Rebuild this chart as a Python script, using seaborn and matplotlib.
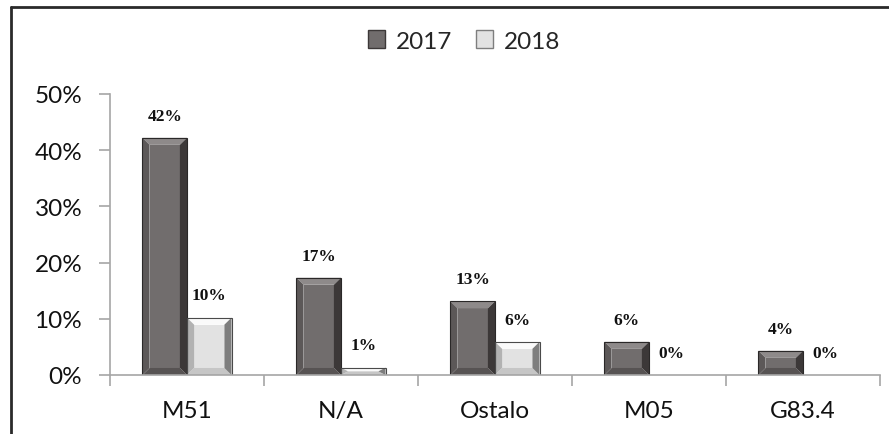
import matplotlib
matplotlib.use("Agg")
import matplotlib.pyplot as plt
from matplotlib.patches import Polygon, Patch
from matplotlib.lines import Line2D
from matplotlib.ticker import FixedLocator
import seaborn as sns
import pandas as pd

categories = ["M51", "N/A", "Ostalo", "M05", "G83.4"]
years = ["2017", "2018"]
values_2017 = [42.2, 17.3, 13.1, 5.9, 4.3]
values_2018 = [10.2, 1.3, 5.9, 0.0, 0.0]
y_ticks = [0, 10, 20, 30, 40, 50]
y_tick_labels = ["0%", "10%", "20%", "30%", "40%", "50%"]

face = {"2017": "#716d6d", "2018": "#e2e2e2"}
shade = {
    "2017": {"top": "#8e8a8a", "left": "#5c5858", "right": "#3c3838", "bottom": "#575353", "edge": "#2a2828"},
    "2018": {"top": "#fafafa", "left": "#b2b2b2", "right": "#7e7e7e", "bottom": "#c6c6c6", "edge": "#4a4a4a"},
}

df = pd.DataFrame({
    "cat": categories * 2,
    "year": ["2017"] * len(categories) + ["2018"] * len(categories),
    "val": values_2017 + values_2018,
})

sns.set_style("white")
plt.rcParams["font.family"] = ["Lato", "DejaVu Sans"]

fig = plt.figure(figsize=(8.89, 4.35), dpi=100)
ax = fig.add_axes([110 / 889, 1 - 376 / 435, (880 - 110) / 889, (376 - 95) / 435])

sns.barplot(data=df, x="cat", y="val", hue="year", order=categories, hue_order=years,
            palette=face, width=0.578, ax=ax, legend=False, saturation=1,
            linewidth=0, edgecolor="none")

bars = list(ax.patches)
n = len(categories)
label_font = dict(fontsize=12.5, fontweight="bold", family=["Liberation Serif", "DejaVu Serif"], color="#111111")

for i, patch in enumerate(bars):
    yr = years[i // n]
    x0 = patch.get_x()
    w = patch.get_width()
    h = patch.get_height()
    ax.annotate(f"{round(h)}%", (x0 + w / 2, h), xytext=(0, 16), textcoords="offset points",
                ha="center", va="center", **label_font)
    if h <= 0:
        continue
    x1 = x0 + w
    y0 = 0.0
    y1 = h
    bx = 0.16 * w
    by = min(1.25, h / 2)
    s = shade[yr]
    polys = [
        ([(x0 + bx, y0 + by), (x1 - bx, y0 + by), (x1 - bx, y1 - by), (x0 + bx, y1 - by)], face[yr]),
        ([(x0, y1), (x1, y1), (x1 - bx, y1 - by), (x0 + bx, y1 - by)], s["top"]),
        ([(x0, y0), (x1, y0), (x1 - bx, y0 + by), (x0 + bx, y0 + by)], s["bottom"]),
        ([(x0, y0), (x0 + bx, y0 + by), (x0 + bx, y1 - by), (x0, y1)], s["left"]),
        ([(x1, y0), (x1 - bx, y0 + by), (x1 - bx, y1 - by), (x1, y1)], s["right"]),
    ]
    for pts, c in polys:
        ax.add_patch(Polygon(pts, closed=True, facecolor=c, edgecolor="none",
                             zorder=patch.get_zorder() + 0.1))
    patch.set_edgecolor(s["edge"])
    patch.set_linewidth(0.8)
    patch.set_zorder(patch.get_zorder() + 0.2)
    patch.set_facecolor("none")

ax.set_ylim(0, 50)
ax.set_xlim(-0.5, n - 0.5)
ax.set_yticks(y_ticks)
ax.set_yticklabels(y_tick_labels)
ax.set_xlabel("")
ax.set_ylabel("")
ax.xaxis.set_minor_locator(FixedLocator([k - 0.5 for k in range(n + 1)]))
ax.tick_params(axis="x", which="major", length=0, pad=18, labelsize=17.5, labelcolor="#111111")
ax.tick_params(axis="x", which="minor", length=8, width=1.2, color="#a6a6a6", direction="out", bottom=True)
ax.tick_params(axis="y", length=8, width=1.2, color="#a6a6a6", direction="out", left=True, pad=12,
               labelsize=17.5, labelcolor="#111111")

for sp in ["top", "right"]:
    ax.spines[sp].set_visible(False)
for sp in ["left", "bottom"]:
    ax.spines[sp].set_color("#a6a6a6")
    ax.spines[sp].set_linewidth(1.2)

handles = [Patch(facecolor=face[y], edgecolor=shade[y]["right"], linewidth=1) for y in years]
fig.legend(handles, years, loc="center", bbox_to_anchor=(0.522, 1 - 42 / 435), ncol=2, frameon=False,
           fontsize=17.5, handlelength=0.7, handleheight=0.7, handletextpad=0.45, columnspacing=1.0)

fig.add_artist(Line2D([11 / 889, 11 / 889], [0, 1 - 8 / 435], transform=fig.transFigure, color="#2a2a2a", lw=2))
fig.add_artist(Line2D([11 / 889, 1], [1 - 8 / 435, 1 - 8 / 435], transform=fig.transFigure, color="#2a2a2a", lw=2))

fig.savefig("out.png", dpi=100)
